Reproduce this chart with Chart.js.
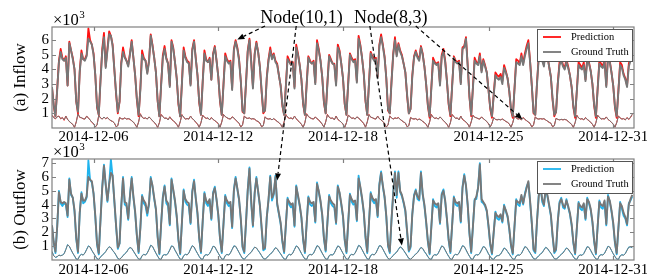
<!DOCTYPE html>
<html>
<head>
<meta charset="utf-8">
<script src="https://cdn.jsdelivr.net/npm/chart.js@4.4.1/dist/chart.umd.min.js"></script>
<style>
  html, body { margin: 0; padding: 0; background: #fff; }
  #wrap { position: relative; width: 647px; height: 276px; overflow: hidden; }
  #wrap canvas { position: absolute; left: 0; top: 0; }
</style>
</head>
<body>
<div id="wrap">
  <canvas id="inflowCanvas" width="647" height="276"></canvas>
  <canvas id="outflowCanvas" width="647" height="276"></canvas>
</div>
<script>
// Time axis: 2-hour steps starting 2014-12-04 00:00, 28 days
const stepHours = 2;
const tickHours = [48, 192, 336, 504, 648];
const tickLabels = ['2014-12-06', '2014-12-12', '2014-12-18', '2014-12-25', '2014-12-31'];
const inflowTicks = [1, 2, 3, 4, 5, 6];
const outflowTicks = [1, 2, 3, 4, 5, 6, 7];

// Inflow, Node(10,1), x10^3 -- one row per day, 00h..22h
const inflowTruth = [
  [2.8, 1.6, 0.8, 2.6, 4.5, 5.2, 4.7, 4.6, 4.8, 2.9, 5.8, 5.3],
  [4.7, 4.0, 1.8, 1.1, 3.8, 5.1, 4.7, 4.6, 4.9, 6.1, 5.9, 5.7],
  [5.0, 3.6, 1.5, 0.9, 3.2, 5.2, 6.2, 4.1, 5.3, 6.4, 6.3, 5.6],
  [4.0, 2.4, 1.1, 1.8, 4.4, 5.2, 4.8, 4.6, 4.2, 5.0, 5.9, 4.8],
  [3.6, 2.0, 0.9, 2.6, 5.0, 4.7, 4.6, 3.7, 4.5, 6.3, 5.6, 4.8],
  [3.8, 1.9, 0.8, 2.9, 4.8, 5.4, 4.7, 4.4, 2.8, 5.9, 5.4, 4.5],
  [3.4, 1.7, 0.8, 3.0, 5.3, 4.8, 4.5, 4.4, 2.9, 5.3, 5.9, 4.7],
  [3.6, 1.8, 0.9, 3.1, 5.1, 4.6, 4.5, 4.7, 3.3, 5.0, 5.5, 4.6],
  [3.5, 1.9, 0.9, 2.9, 4.9, 4.6, 4.4, 4.5, 2.6, 5.3, 5.9, 5.4],
  [4.6, 3.2, 1.2, 1.0, 3.0, 5.2, 6.0, 4.5, 2.7, 5.0, 5.8, 5.2],
  [4.2, 2.6, 1.1, 1.2, 3.4, 4.6, 5.3, 4.7, 5.0, 4.5, 4.3, 3.6],
  [2.9, 1.6, 0.9, 2.8, 4.7, 4.5, 4.3, 4.4, 2.7, 5.5, 5.0, 4.3],
  [3.3, 1.7, 0.9, 2.9, 4.8, 4.5, 4.4, 4.5, 3.0, 5.8, 5.3, 4.6],
  [3.5, 1.8, 1.0, 3.0, 4.9, 4.6, 4.4, 4.3, 2.9, 5.5, 5.2, 4.4],
  [3.4, 1.7, 0.9, 3.0, 5.0, 4.7, 4.5, 4.6, 3.1, 6.1, 5.6, 4.8],
  [3.7, 1.9, 0.9, 3.0, 5.1, 4.8, 4.6, 4.7, 3.4, 5.6, 6.2, 5.6],
  [4.8, 3.4, 1.3, 1.0, 3.1, 5.0, 6.0, 4.9, 5.7, 5.2, 4.9, 4.4],
  [3.8, 2.3, 1.0, 1.3, 3.5, 4.8, 5.2, 4.8, 4.6, 5.5, 5.0, 4.2],
  [3.0, 1.6, 0.8, 2.7, 4.6, 4.4, 4.3, 4.4, 2.9, 4.9, 5.2, 4.5],
  [3.2, 1.7, 0.9, 2.8, 4.8, 4.5, 4.4, 4.5, 3.0, 5.4, 5.5, 6.1],
  [4.2, 2.2, 0.9, 2.7, 4.6, 4.4, 4.3, 4.9, 3.8, 4.6, 4.2, 3.8],
  [2.6, 1.4, 0.8, 2.2, 3.6, 3.4, 3.3, 3.5, 3.0, 4.1, 3.8, 3.4],
  [2.5, 1.3, 0.8, 2.6, 4.5, 4.4, 4.3, 4.9, 4.3, 4.9, 5.4, 5.8],
  [4.5, 2.9, 1.1, 0.9, 3.0, 4.8, 5.5, 4.6, 4.2, 5.3, 4.9, 4.2],
  [3.5, 2.0, 0.9, 1.1, 3.0, 4.3, 4.6, 4.2, 4.0, 4.5, 4.1, 3.6],
  [2.8, 1.5, 0.8, 2.5, 4.3, 4.1, 4.0, 4.3, 3.2, 4.6, 4.4, 3.9],
  [3.0, 1.6, 0.8, 2.6, 4.4, 4.2, 4.1, 4.5, 2.8, 4.8, 4.5, 3.8],
  [2.9, 1.5, 0.8, 2.5, 4.3, 4.1, 3.6, 3.3, 2.8, 4.2, 4.6, 5.1]
].flat();

const inflowPred = [
  [2.8, 1.5, 0.8, 2.7, 4.6, 5.4, 4.8, 4.6, 4.9, 2.9, 5.9, 5.3],
  [4.8, 4.0, 1.8, 1.0, 3.9, 5.3, 4.7, 4.7, 5.0, 6.8, 6.0, 5.7],
  [5.1, 3.6, 1.4, 0.9, 3.3, 5.4, 6.5, 4.2, 5.4, 6.6, 6.3, 5.7],
  [4.0, 2.3, 1.0, 1.8, 4.5, 5.5, 4.9, 4.6, 4.3, 5.1, 6.0, 4.8],
  [3.6, 1.9, 0.8, 2.7, 5.3, 4.8, 4.6, 3.8, 4.6, 6.4, 5.7, 4.8],
  [3.8, 1.8, 0.8, 3.0, 5.0, 5.6, 4.8, 4.4, 2.9, 6.0, 5.5, 4.5],
  [3.4, 1.6, 0.8, 3.1, 5.5, 4.9, 4.6, 4.5, 3.0, 5.4, 6.0, 4.8],
  [3.6, 1.7, 0.9, 3.2, 5.3, 4.7, 4.5, 4.8, 3.3, 5.1, 5.6, 4.6],
  [3.5, 1.8, 0.9, 3.0, 5.1, 4.7, 4.5, 4.6, 2.7, 5.4, 6.0, 5.5],
  [4.7, 3.2, 1.1, 1.0, 3.1, 5.3, 6.1, 4.6, 2.8, 5.1, 5.9, 5.2],
  [4.2, 2.5, 1.0, 1.2, 3.5, 4.7, 5.5, 4.8, 5.1, 4.6, 4.4, 3.6],
  [2.9, 1.5, 0.9, 2.9, 4.9, 4.6, 4.3, 4.5, 2.8, 5.7, 5.1, 4.3],
  [3.3, 1.6, 0.9, 3.0, 4.9, 4.6, 4.4, 4.6, 3.1, 6.0, 5.4, 4.6],
  [3.5, 1.7, 1.0, 3.1, 5.0, 4.7, 4.4, 4.4, 3.0, 5.7, 5.3, 4.4],
  [3.4, 1.6, 0.9, 3.1, 5.1, 4.8, 4.6, 4.7, 3.2, 6.3, 5.7, 4.8],
  [3.7, 1.8, 0.9, 3.1, 5.2, 4.9, 4.7, 4.8, 3.5, 5.7, 6.4, 5.7],
  [4.9, 3.4, 1.2, 1.0, 3.2, 5.1, 6.2, 5.0, 5.8, 5.3, 5.0, 4.4],
  [3.8, 2.2, 1.0, 1.3, 3.6, 4.9, 5.3, 4.9, 4.7, 5.6, 5.1, 4.2],
  [3.0, 1.5, 0.7, 2.8, 4.8, 4.5, 4.4, 4.5, 3.0, 5.0, 5.4, 4.6],
  [3.2, 1.6, 0.8, 2.9, 4.9, 4.6, 4.5, 4.6, 3.1, 5.5, 5.6, 6.2],
  [4.3, 2.1, 0.8, 2.8, 4.8, 4.5, 4.4, 5.1, 3.9, 4.7, 4.3, 3.8],
  [2.6, 1.3, 0.7, 2.3, 3.8, 3.6, 3.5, 3.7, 3.2, 4.3, 3.9, 3.4],
  [2.5, 1.2, 0.7, 2.7, 4.7, 4.6, 4.4, 5.1, 4.4, 5.1, 5.6, 6.0],
  [4.6, 2.9, 1.0, 0.9, 3.1, 4.9, 5.7, 4.8, 4.3, 5.5, 5.0, 4.2],
  [3.5, 1.9, 0.8, 1.1, 3.1, 4.5, 4.8, 4.3, 4.1, 4.7, 4.2, 3.6],
  [2.8, 1.4, 0.7, 2.6, 4.5, 4.3, 4.1, 4.5, 3.3, 4.8, 4.5, 3.9],
  [3.0, 1.5, 0.7, 2.7, 4.6, 4.4, 4.2, 4.7, 2.9, 5.0, 4.6, 3.8],
  [2.9, 1.4, 0.7, 2.6, 4.5, 4.3, 3.7, 3.4, 2.9, 4.4, 4.8, 5.2]
].flat();

// Inflow, Node(8,3)
const inflowSmallTruth = [
  [0.85, 0.70, 0.65, 0.75, 0.80, 0.65, 0.70, 0.55, 0.80, 0.60, 0.45, 0.35],
  [0.25, 0.05, 0.40, 0.95, 0.75, 0.70, 0.65, 0.60, 0.80, 0.70, 0.55, 0.40],
  [0.30, 0.08, 0.20, 0.85, 0.70, 0.60, 0.75, 0.65, 0.70, 0.60, 0.50, 0.45],
  [0.35, 0.10, 0.15, 0.70, 0.65, 0.60, 0.70, 0.60, 0.65, 0.60, 0.50, 0.40],
  [0.25, 0.05, 0.40, 0.95, 0.75, 0.65, 0.70, 0.60, 0.75, 0.65, 0.50, 0.40],
  [0.25, 0.05, 0.35, 0.90, 0.80, 0.65, 0.70, 0.55, 0.75, 0.60, 0.50, 0.40],
  [0.25, 0.06, 0.40, 0.90, 0.75, 0.60, 0.65, 0.60, 0.80, 0.65, 0.55, 0.40],
  [0.28, 0.05, 0.35, 0.85, 0.75, 0.65, 0.70, 0.55, 0.70, 0.60, 0.50, 0.42],
  [0.30, 0.06, 0.40, 0.90, 0.80, 0.70, 0.65, 0.60, 0.75, 0.70, 0.55, 0.45],
  [0.32, 0.08, 0.20, 0.80, 0.70, 0.65, 0.70, 0.60, 0.65, 0.60, 0.50, 0.45],
  [0.35, 0.10, 0.15, 0.75, 0.65, 0.60, 0.65, 0.55, 0.65, 0.55, 0.45, 0.38],
  [0.25, 0.05, 0.40, 0.90, 0.75, 0.65, 0.70, 0.60, 0.80, 0.65, 0.50, 0.40],
  [0.26, 0.05, 0.35, 0.95, 0.80, 0.70, 0.65, 0.60, 0.75, 0.65, 0.55, 0.42],
  [0.27, 0.06, 0.40, 0.90, 0.75, 0.65, 0.70, 0.55, 0.80, 0.60, 0.50, 0.40],
  [0.28, 0.05, 0.35, 0.85, 0.80, 0.65, 0.70, 0.60, 0.75, 0.70, 0.55, 0.45],
  [0.30, 0.06, 0.40, 0.90, 0.75, 0.70, 0.65, 0.60, 0.80, 0.65, 0.55, 0.45],
  [0.32, 0.08, 0.20, 0.80, 0.70, 0.60, 0.70, 0.65, 0.70, 0.60, 0.50, 0.42],
  [0.35, 0.10, 0.15, 0.70, 0.65, 0.60, 0.65, 0.55, 0.60, 0.55, 0.45, 0.38],
  [0.25, 0.05, 0.40, 0.90, 0.75, 0.65, 0.70, 0.60, 0.75, 0.65, 0.50, 0.40],
  [0.26, 0.05, 0.35, 0.90, 0.80, 0.65, 0.70, 0.55, 0.80, 0.60, 0.50, 0.42],
  [0.28, 0.06, 0.40, 0.85, 0.75, 0.70, 0.65, 0.60, 0.75, 0.65, 0.55, 0.45],
  [0.30, 0.08, 0.30, 0.70, 0.60, 0.55, 0.60, 0.55, 0.60, 0.55, 0.45, 0.40],
  [0.28, 0.06, 0.35, 0.80, 0.70, 0.60, 0.65, 0.55, 0.70, 0.60, 0.50, 0.42],
  [0.32, 0.08, 0.20, 0.75, 0.65, 0.60, 0.65, 0.60, 0.65, 0.55, 0.48, 0.40],
  [0.33, 0.10, 0.15, 0.65, 0.60, 0.55, 0.60, 0.55, 0.60, 0.55, 0.45, 0.36],
  [0.25, 0.05, 0.35, 0.85, 0.70, 0.60, 0.65, 0.55, 0.70, 0.60, 0.50, 0.40],
  [0.26, 0.05, 0.35, 0.85, 0.75, 0.60, 0.65, 0.60, 0.75, 0.60, 0.50, 0.40],
  [0.27, 0.06, 0.35, 0.80, 0.70, 0.60, 0.65, 0.55, 0.70, 0.60, 0.75, 0.95]
].flat();

const inflowSmallPred = [
  [0.88, 0.72, 0.62, 0.78, 0.82, 0.62, 0.72, 0.52, 0.82, 0.58, 0.45, 0.33],
  [0.24, 0.04, 0.42, 0.98, 0.72, 0.70, 0.62, 0.62, 0.82, 0.68, 0.55, 0.38],
  [0.30, 0.06, 0.22, 0.88, 0.68, 0.62, 0.75, 0.62, 0.72, 0.58, 0.50, 0.44],
  [0.34, 0.08, 0.17, 0.72, 0.63, 0.62, 0.68, 0.62, 0.63, 0.60, 0.48, 0.40],
  [0.24, 0.04, 0.42, 0.98, 0.73, 0.66, 0.68, 0.62, 0.76, 0.63, 0.50, 0.38],
  [0.24, 0.04, 0.37, 0.93, 0.78, 0.66, 0.68, 0.56, 0.77, 0.58, 0.50, 0.38],
  [0.24, 0.05, 0.42, 0.92, 0.73, 0.62, 0.64, 0.62, 0.82, 0.63, 0.55, 0.38],
  [0.27, 0.04, 0.37, 0.88, 0.73, 0.66, 0.68, 0.56, 0.72, 0.58, 0.50, 0.40],
  [0.29, 0.05, 0.42, 0.93, 0.78, 0.70, 0.63, 0.62, 0.77, 0.68, 0.55, 0.43],
  [0.31, 0.06, 0.22, 0.83, 0.68, 0.66, 0.68, 0.62, 0.63, 0.60, 0.50, 0.43],
  [0.34, 0.08, 0.17, 0.77, 0.63, 0.62, 0.63, 0.56, 0.63, 0.55, 0.45, 0.36],
  [0.24, 0.04, 0.42, 0.93, 0.73, 0.66, 0.68, 0.62, 0.82, 0.63, 0.50, 0.38],
  [0.25, 0.04, 0.37, 0.98, 0.78, 0.70, 0.63, 0.62, 0.76, 0.63, 0.55, 0.40],
  [0.26, 0.05, 0.42, 0.93, 0.73, 0.66, 0.68, 0.56, 0.82, 0.58, 0.50, 0.38],
  [0.27, 0.04, 0.37, 0.88, 0.78, 0.66, 0.68, 0.62, 0.76, 0.68, 0.55, 0.43],
  [0.29, 0.05, 0.42, 0.93, 0.73, 0.70, 0.63, 0.62, 0.82, 0.63, 0.55, 0.43],
  [0.31, 0.06, 0.22, 0.83, 0.68, 0.62, 0.68, 0.66, 0.72, 0.58, 0.50, 0.40],
  [0.34, 0.08, 0.17, 0.72, 0.63, 0.62, 0.63, 0.56, 0.62, 0.55, 0.45, 0.36],
  [0.24, 0.04, 0.42, 0.93, 0.73, 0.66, 0.68, 0.62, 0.76, 0.63, 0.50, 0.38],
  [0.25, 0.04, 0.37, 0.93, 0.78, 0.66, 0.68, 0.56, 0.82, 0.58, 0.50, 0.40],
  [0.27, 0.05, 0.42, 0.88, 0.73, 0.70, 0.63, 0.62, 0.76, 0.63, 0.55, 0.43],
  [0.29, 0.06, 0.32, 0.72, 0.58, 0.56, 0.58, 0.56, 0.62, 0.53, 0.45, 0.38],
  [0.27, 0.05, 0.37, 0.83, 0.68, 0.62, 0.63, 0.56, 0.72, 0.58, 0.50, 0.40],
  [0.31, 0.06, 0.22, 0.77, 0.63, 0.62, 0.63, 0.62, 0.63, 0.55, 0.47, 0.38],
  [0.32, 0.08, 0.17, 0.67, 0.58, 0.56, 0.58, 0.56, 0.58, 0.55, 0.45, 0.34],
  [0.24, 0.04, 0.37, 0.88, 0.68, 0.62, 0.63, 0.56, 0.72, 0.58, 0.50, 0.38],
  [0.25, 0.04, 0.37, 0.88, 0.73, 0.62, 0.63, 0.62, 0.76, 0.58, 0.50, 0.38],
  [0.26, 0.05, 0.37, 0.83, 0.68, 0.62, 0.63, 0.56, 0.72, 0.58, 0.72, 0.92]
].flat();

// Outflow, Node(10,1)
const outflowTruth = [
  [2.5, 1.3, 0.6, 2.4, 4.9, 4.2, 4.1, 4.2, 4.1, 3.2, 5.8, 4.8],
  [4.5, 3.6, 1.6, 0.6, 3.4, 4.8, 4.3, 4.3, 4.6, 6.0, 5.8, 5.7],
  [4.8, 3.2, 1.2, 0.5, 2.9, 5.2, 6.8, 5.5, 4.3, 5.5, 6.3, 6.1],
  [4.3, 2.5, 0.9, 1.2, 3.9, 5.9, 4.2, 4.1, 3.0, 4.6, 5.9, 4.6],
  [3.5, 1.8, 0.6, 2.3, 4.6, 4.3, 4.1, 3.4, 4.1, 5.9, 5.4, 4.5],
  [3.7, 1.7, 0.5, 2.6, 4.5, 5.3, 4.3, 4.1, 2.6, 5.8, 5.1, 4.3],
  [3.2, 1.5, 0.5, 2.7, 5.0, 4.4, 4.2, 4.1, 2.7, 4.9, 5.7, 4.5],
  [3.4, 1.6, 0.6, 2.8, 4.8, 4.3, 4.1, 4.4, 3.0, 4.8, 5.2, 4.4],
  [3.3, 1.6, 0.6, 2.6, 4.6, 4.3, 4.1, 4.2, 2.4, 5.0, 5.9, 5.2],
  [4.4, 3.0, 1.0, 0.6, 2.7, 5.0, 6.6, 4.3, 2.5, 4.8, 5.9, 5.0],
  [4.0, 2.4, 0.8, 0.9, 3.1, 4.4, 6.0, 4.5, 4.8, 6.0, 4.1, 3.4],
  [2.7, 1.4, 0.6, 2.5, 4.4, 4.2, 4.0, 4.1, 2.5, 5.3, 4.7, 4.0],
  [3.1, 1.5, 0.6, 2.6, 4.5, 4.2, 4.1, 4.2, 2.8, 5.5, 5.0, 4.3],
  [3.3, 1.6, 0.7, 2.7, 4.6, 4.3, 4.1, 4.0, 2.7, 5.3, 4.9, 4.1],
  [3.2, 1.5, 0.6, 2.7, 4.7, 4.4, 4.2, 4.3, 2.9, 5.9, 5.3, 4.5],
  [3.5, 1.7, 0.6, 2.7, 4.8, 4.5, 4.3, 4.4, 3.2, 5.4, 6.3, 5.4],
  [4.6, 3.2, 1.1, 0.6, 2.9, 4.8, 6.3, 4.7, 6.3, 5.0, 4.7, 4.2],
  [3.6, 2.1, 0.7, 1.0, 3.3, 4.6, 5.0, 4.6, 4.4, 6.3, 4.8, 4.0],
  [2.8, 1.4, 0.5, 2.4, 4.3, 4.1, 4.0, 4.1, 2.7, 4.7, 5.0, 4.3],
  [3.0, 1.5, 0.6, 2.5, 4.5, 4.2, 4.1, 4.2, 2.8, 5.2, 6.1, 5.4],
  [4.0, 2.0, 0.6, 2.4, 4.3, 4.6, 5.2, 6.9, 4.4, 4.2, 4.0, 3.6],
  [2.5, 1.2, 0.5, 2.0, 3.4, 3.2, 3.1, 3.3, 2.8, 3.9, 3.6, 3.2],
  [2.3, 1.1, 0.5, 2.4, 4.3, 4.2, 4.1, 4.7, 4.1, 4.7, 5.2, 5.7],
  [4.3, 2.7, 0.8, 0.6, 2.8, 4.6, 5.3, 4.4, 4.0, 5.1, 4.7, 4.0],
  [3.3, 1.8, 0.6, 0.8, 2.8, 4.1, 4.4, 4.0, 3.8, 4.3, 3.9, 3.4],
  [2.6, 1.3, 0.5, 2.3, 4.1, 3.9, 3.8, 4.1, 3.0, 4.4, 4.2, 3.7],
  [2.8, 1.4, 0.5, 2.4, 4.2, 4.0, 3.9, 4.3, 2.6, 4.6, 4.3, 3.6],
  [2.7, 1.3, 0.5, 2.3, 4.1, 3.9, 3.4, 3.1, 2.6, 4.0, 4.4, 4.7]
].flat();

const outflowPred = [
  [2.5, 1.2, 0.5, 2.4, 5.0, 4.1, 3.9, 4.1, 4.0, 3.1, 5.9, 4.7],
  [4.5, 3.5, 1.5, 0.5, 3.4, 4.9, 4.1, 4.2, 4.5, 7.2, 5.8, 5.6],
  [4.8, 3.1, 1.1, 0.4, 2.9, 5.3, 6.9, 5.4, 4.2, 5.5, 7.3, 6.0],
  [4.2, 2.4, 0.8, 1.2, 3.9, 6.0, 4.0, 3.9, 2.9, 4.7, 6.0, 4.5],
  [3.4, 1.7, 0.5, 2.3, 4.7, 4.1, 3.9, 3.2, 4.0, 6.0, 5.3, 4.4],
  [3.6, 1.6, 0.4, 2.6, 4.6, 5.4, 4.1, 3.9, 2.5, 5.9, 5.0, 4.2],
  [3.1, 1.4, 0.4, 2.7, 5.1, 4.2, 4.0, 3.9, 2.6, 5.0, 5.8, 4.4],
  [3.3, 1.5, 0.5, 2.8, 4.9, 4.1, 3.9, 4.3, 2.9, 4.9, 5.3, 4.3],
  [3.2, 1.5, 0.5, 2.6, 4.7, 4.1, 3.9, 4.0, 2.3, 5.1, 6.0, 5.1],
  [4.3, 2.9, 0.9, 0.5, 2.7, 5.1, 6.7, 4.1, 2.4, 4.9, 6.0, 4.9],
  [3.9, 2.3, 0.7, 0.8, 3.1, 4.3, 6.1, 4.3, 4.7, 6.1, 4.0, 3.3],
  [2.6, 1.3, 0.5, 2.5, 4.5, 4.0, 3.8, 4.0, 2.4, 5.4, 4.6, 3.9],
  [3.0, 1.4, 0.5, 2.6, 4.6, 4.0, 3.9, 4.1, 2.7, 5.6, 4.9, 4.2],
  [3.2, 1.5, 0.6, 2.7, 4.7, 4.1, 3.9, 3.8, 2.6, 5.4, 4.8, 4.0],
  [3.1, 1.4, 0.5, 2.7, 4.8, 4.2, 4.0, 4.1, 2.8, 6.1, 5.2, 4.4],
  [3.4, 1.6, 0.5, 2.7, 4.9, 4.3, 4.1, 4.3, 3.1, 5.5, 6.4, 5.3],
  [4.5, 3.1, 1.0, 0.5, 2.9, 4.9, 6.4, 4.5, 6.4, 4.9, 4.6, 4.1],
  [3.5, 2.0, 0.6, 0.9, 3.3, 4.7, 5.1, 4.4, 4.3, 6.4, 4.7, 3.9],
  [2.7, 1.3, 0.4, 2.4, 4.4, 3.9, 3.8, 4.0, 2.6, 4.8, 5.1, 4.2],
  [2.9, 1.4, 0.5, 2.5, 4.6, 4.0, 3.9, 4.1, 2.7, 5.3, 6.2, 5.3],
  [3.9, 1.9, 0.5, 2.4, 4.4, 4.4, 5.3, 7.0, 4.2, 4.1, 3.9, 3.5],
  [2.4, 1.1, 0.4, 2.0, 3.5, 3.0, 2.9, 3.2, 2.7, 4.0, 3.5, 3.1],
  [2.2, 1.0, 0.4, 2.4, 4.4, 4.0, 3.9, 4.6, 4.0, 4.8, 5.3, 5.6],
  [4.2, 2.6, 0.7, 0.5, 2.8, 4.7, 5.4, 4.2, 3.9, 5.2, 4.6, 3.9],
  [3.2, 1.7, 0.5, 0.7, 2.8, 4.2, 4.5, 3.8, 3.7, 4.4, 3.8, 3.3],
  [2.5, 1.2, 0.4, 2.3, 4.2, 3.7, 3.6, 4.0, 2.9, 4.5, 4.1, 3.6],
  [2.7, 1.3, 0.4, 2.4, 4.3, 3.8, 3.7, 4.2, 2.5, 4.7, 4.2, 3.5],
  [2.6, 1.2, 0.4, 2.3, 4.2, 3.7, 3.2, 3.0, 2.5, 4.1, 4.3, 4.6]
].flat();

// Outflow, Node(8,3)
const outflowSmallTruth = [
  [0.60, 0.30, 0.20, 0.25, 0.35, 0.30, 0.35, 0.45, 0.75, 1.10, 1.00, 0.75],
  [0.50, 0.30, 0.08, 0.05, 0.30, 0.40, 0.35, 0.50, 0.75, 1.00, 0.95, 0.70],
  [0.50, 0.30, 0.10, 0.05, 0.20, 0.35, 0.45, 0.60, 0.80, 0.95, 0.90, 0.70],
  [0.55, 0.35, 0.12, 0.06, 0.15, 0.30, 0.45, 0.55, 0.75, 0.90, 0.85, 0.65],
  [0.45, 0.25, 0.08, 0.05, 0.30, 0.40, 0.35, 0.50, 0.75, 1.05, 1.00, 0.75],
  [0.50, 0.28, 0.08, 0.05, 0.32, 0.38, 0.35, 0.48, 0.72, 1.00, 0.98, 0.72],
  [0.50, 0.27, 0.07, 0.05, 0.30, 0.40, 0.36, 0.50, 0.78, 1.02, 0.95, 0.70],
  [0.48, 0.26, 0.08, 0.05, 0.31, 0.38, 0.34, 0.47, 0.70, 0.98, 0.96, 0.72],
  [0.50, 0.28, 0.08, 0.05, 0.30, 0.40, 0.35, 0.50, 0.75, 1.00, 1.00, 0.78],
  [0.55, 0.32, 0.12, 0.06, 0.18, 0.32, 0.45, 0.55, 0.75, 0.92, 0.88, 0.70],
  [0.52, 0.32, 0.12, 0.06, 0.15, 0.30, 0.42, 0.52, 0.70, 0.88, 0.82, 0.62],
  [0.45, 0.25, 0.08, 0.05, 0.30, 0.40, 0.35, 0.50, 0.75, 1.00, 0.95, 0.72],
  [0.48, 0.27, 0.08, 0.05, 0.32, 0.40, 0.36, 0.48, 0.74, 1.02, 0.98, 0.74],
  [0.50, 0.28, 0.08, 0.05, 0.30, 0.38, 0.35, 0.50, 0.76, 1.00, 0.96, 0.72],
  [0.49, 0.27, 0.08, 0.05, 0.31, 0.40, 0.36, 0.50, 0.75, 1.04, 1.00, 0.76],
  [0.52, 0.29, 0.09, 0.05, 0.32, 0.40, 0.36, 0.50, 0.76, 1.02, 1.02, 0.80],
  [0.56, 0.33, 0.12, 0.06, 0.18, 0.32, 0.46, 0.56, 0.76, 0.94, 0.88, 0.70],
  [0.52, 0.32, 0.12, 0.06, 0.15, 0.30, 0.42, 0.52, 0.72, 0.90, 0.84, 0.62],
  [0.45, 0.25, 0.08, 0.05, 0.30, 0.38, 0.34, 0.48, 0.74, 1.00, 0.96, 0.72],
  [0.48, 0.27, 0.08, 0.05, 0.31, 0.40, 0.36, 0.50, 0.76, 1.02, 0.98, 0.75],
  [0.50, 0.28, 0.08, 0.05, 0.30, 0.38, 0.35, 0.48, 0.72, 0.96, 0.92, 0.70],
  [0.45, 0.26, 0.09, 0.05, 0.22, 0.30, 0.32, 0.42, 0.62, 0.85, 0.80, 0.62],
  [0.44, 0.25, 0.08, 0.05, 0.28, 0.36, 0.34, 0.46, 0.70, 0.95, 0.92, 0.72],
  [0.52, 0.31, 0.11, 0.06, 0.16, 0.30, 0.42, 0.52, 0.72, 0.90, 0.85, 0.66],
  [0.50, 0.30, 0.11, 0.06, 0.14, 0.28, 0.40, 0.50, 0.68, 0.85, 0.80, 0.60],
  [0.44, 0.24, 0.08, 0.05, 0.28, 0.36, 0.33, 0.46, 0.70, 0.95, 0.92, 0.70],
  [0.46, 0.26, 0.08, 0.05, 0.30, 0.38, 0.35, 0.48, 0.72, 0.98, 0.94, 0.70],
  [0.46, 0.26, 0.08, 0.05, 0.29, 0.37, 0.34, 0.46, 0.70, 0.92, 0.95, 0.90]
].flat();

const outflowSmallPred = [
  [0.62, 0.32, 0.18, 0.22, 0.36, 0.32, 0.36, 0.46, 0.78, 1.12, 0.98, 0.72],
  [0.48, 0.28, 0.06, 0.04, 0.32, 0.42, 0.36, 0.52, 0.78, 1.03, 0.93, 0.68],
  [0.48, 0.28, 0.08, 0.04, 0.22, 0.36, 0.46, 0.62, 0.82, 0.97, 0.88, 0.68],
  [0.53, 0.33, 0.10, 0.05, 0.17, 0.32, 0.46, 0.57, 0.77, 0.92, 0.83, 0.63],
  [0.43, 0.23, 0.06, 0.04, 0.32, 0.42, 0.36, 0.52, 0.78, 1.08, 0.98, 0.72],
  [0.48, 0.26, 0.06, 0.04, 0.34, 0.40, 0.36, 0.50, 0.75, 1.03, 0.96, 0.70],
  [0.48, 0.25, 0.05, 0.04, 0.32, 0.42, 0.37, 0.52, 0.81, 1.05, 0.93, 0.68],
  [0.46, 0.24, 0.06, 0.04, 0.33, 0.40, 0.35, 0.49, 0.73, 1.01, 0.94, 0.70],
  [0.48, 0.26, 0.06, 0.04, 0.32, 0.42, 0.36, 0.52, 0.78, 1.03, 0.98, 0.76],
  [0.53, 0.30, 0.10, 0.05, 0.20, 0.34, 0.47, 0.57, 0.77, 0.94, 0.86, 0.68],
  [0.50, 0.30, 0.10, 0.05, 0.17, 0.32, 0.44, 0.54, 0.72, 0.90, 0.80, 0.60],
  [0.43, 0.23, 0.06, 0.04, 0.32, 0.42, 0.36, 0.52, 0.78, 1.03, 0.93, 0.70],
  [0.46, 0.25, 0.06, 0.04, 0.34, 0.42, 0.37, 0.50, 0.77, 1.05, 0.96, 0.72],
  [0.48, 0.26, 0.06, 0.04, 0.32, 0.40, 0.36, 0.52, 0.79, 1.03, 0.94, 0.70],
  [0.47, 0.25, 0.06, 0.04, 0.33, 0.42, 0.37, 0.52, 0.78, 1.07, 0.98, 0.74],
  [0.50, 0.27, 0.07, 0.04, 0.34, 0.42, 0.37, 0.52, 0.79, 1.05, 1.00, 0.78],
  [0.54, 0.31, 0.10, 0.05, 0.20, 0.34, 0.48, 0.58, 0.78, 0.96, 0.86, 0.68],
  [0.50, 0.30, 0.10, 0.05, 0.17, 0.32, 0.44, 0.54, 0.74, 0.92, 0.82, 0.60],
  [0.43, 0.23, 0.06, 0.04, 0.32, 0.40, 0.35, 0.50, 0.77, 1.03, 0.94, 0.70],
  [0.46, 0.25, 0.06, 0.04, 0.33, 0.42, 0.37, 0.52, 0.79, 1.05, 0.96, 0.73],
  [0.48, 0.26, 0.06, 0.04, 0.32, 0.40, 0.36, 0.50, 0.75, 0.99, 0.90, 0.68],
  [0.43, 0.24, 0.07, 0.04, 0.24, 0.32, 0.33, 0.44, 0.65, 0.88, 0.78, 0.60],
  [0.42, 0.23, 0.06, 0.04, 0.30, 0.38, 0.35, 0.48, 0.73, 0.98, 0.90, 0.70],
  [0.50, 0.29, 0.09, 0.05, 0.18, 0.32, 0.44, 0.54, 0.75, 0.93, 0.83, 0.64],
  [0.48, 0.28, 0.09, 0.05, 0.16, 0.30, 0.42, 0.52, 0.71, 0.88, 0.78, 0.58],
  [0.42, 0.22, 0.06, 0.04, 0.30, 0.38, 0.34, 0.48, 0.73, 0.98, 0.90, 0.68],
  [0.44, 0.24, 0.06, 0.04, 0.32, 0.40, 0.36, 0.50, 0.75, 1.01, 0.92, 0.68],
  [0.44, 0.24, 0.06, 0.04, 0.31, 0.39, 0.35, 0.48, 0.73, 0.95, 0.93, 0.88]
].flat();

// Annotations (positions in hours / data values of the panels)
const nodeNotes = [
  { text: 'Node(10,1)', hour: 288 },
  { text: 'Node(8,3)', hour: 391 }
];
const nodeArrows = [
  { fromHour: 246, panel: 'inflow', toHour: 214, toValue: 6.05 },
  { fromHour: 282, panel: 'outflow', toHour: 260, toValue: 5.75 },
  { fromHour: 367, panel: 'outflow', toHour: 404, toValue: 1.05 },
  { fromHour: 420, panel: 'inflow', toHour: 543, toValue: 0.6 }
];

const hours = inflowTruth.map((_, i) => i * stepHours);
const FONT = "'Liberation Serif', 'Times New Roman', serif";
const truthColor = '#777777';

let inflowPanel = null;
let outflowPanel = null;

document.addEventListener('DOMContentLoaded', function() {
    inflowPanel = buildPanel('inflowCanvas', {
        title: '(a) Inflow',
        color: '#ff1111',
        truth: inflowTruth, pred: inflowPred,
        smallTruth: inflowSmallTruth, smallPred: inflowSmallPred,
        yMax: 6.9, yTicks: inflowTicks,
        padding: { left: 0, right: 13, top: 27, bottom: 128 },
        xHeight: 20, xPad: 0,
        notes: false
    });
    outflowPanel = buildPanel('outflowCanvas', {
        title: '(b) Outflow',
        color: '#1fb4ee',
        truth: outflowTruth, pred: outflowPred,
        smallTruth: outflowSmallTruth, smallPred: outflowSmallPred,
        yMax: 7.3, yTicks: outflowTicks,
        padding: { left: 0, right: 13, top: 159, bottom: 0 },
        xHeight: 16, xPad: 1,
        notes: true
    });
});

// Frame, inward ticks, x10^3 label and legend drawn over the data
const framePlugin = {
    id: 'frame',
    afterDatasetsDraw(chart) {
        const { ctx, chartArea: a, scales } = chart;
        const panel = chart.options.plugins.frame;
        ctx.save();
        ctx.strokeStyle = '#808080';
        ctx.lineWidth = 1.2;
        ctx.strokeRect(a.left, a.top, a.right - a.left, a.bottom - a.top);
        ctx.beginPath();
        scales.y.ticks.forEach(t => {
            const py = Math.round(scales.y.getPixelForValue(t.value)) + 0.5;
            ctx.moveTo(a.left, py); ctx.lineTo(a.left + 4, py);
            ctx.moveTo(a.right, py); ctx.lineTo(a.right - 4, py);
        });
        scales.x.ticks.forEach(t => {
            const px = Math.round(scales.x.getPixelForValue(t.value)) + 0.5;
            ctx.moveTo(px, a.top); ctx.lineTo(px, a.top + 4);
            ctx.moveTo(px, a.bottom); ctx.lineTo(px, a.bottom - 4);
        });
        ctx.stroke();

        // x10^3 multiplier
        ctx.fillStyle = '#000';
        ctx.textBaseline = 'alphabetic';
        ctx.font = '16.5px ' + FONT;
        ctx.fillText('\u00d710', a.left + 1, a.top - 2.5);
        const w = ctx.measureText('\u00d710').width;
        ctx.font = '11px ' + FONT;
        ctx.fillText('3', a.left + 1 + w + 0.5, a.top - 9);

        drawLegend(ctx, a.right - 97, a.top + 2, panel.color);
        ctx.restore();

        if (panel.notes) drawNotes(ctx, chart);
    }
};

// Legend box (matplotlib style, drawn on top of the lines)
function drawLegend(ctx, x, y, color) {
    ctx.fillStyle = '#fff';
    ctx.fillRect(x, y, 95, 32);
    ctx.strokeStyle = '#555';
    ctx.lineWidth = 1;
    ctx.strokeRect(x + 0.5, y + 0.5, 95, 32);
    const rows = [['Prediction', color], ['Ground Truth', truthColor]];
    ctx.font = '10.5px ' + FONT;
    ctx.textBaseline = 'middle';
    rows.forEach((r, i) => {
        const ry = y + 8 + i * 15;
        ctx.strokeStyle = r[1];
        ctx.lineWidth = 1.8;
        ctx.beginPath();
        ctx.moveTo(x + 6, ry); ctx.lineTo(x + 24, ry);
        ctx.stroke();
        ctx.fillStyle = '#000';
        ctx.fillText(r[0], x + 34, ry);
    });
}

// Node labels and dashed arrows spanning both panels
function drawNotes(ctx, bottom) {
    const top = inflowPanel;
    if (!top || !top.scales || !bottom.scales) return;
    const tx = top.scales.x;
    const yTop = top.chartArea.top;
    ctx.save();
    ctx.fillStyle = '#000';
    ctx.strokeStyle = '#000';
    ctx.font = '18px ' + FONT;
    ctx.textAlign = 'center';
    ctx.textBaseline = 'alphabetic';
    nodeNotes.forEach(n => ctx.fillText(n.text, tx.getPixelForValue(n.hour), yTop - 4));
    ctx.lineWidth = 1.2;
    nodeArrows.forEach(a => {
        const target = a.panel === 'inflow' ? top : bottom;
        drawArrow(ctx,
            tx.getPixelForValue(a.fromHour), yTop - 1,
            target.scales.x.getPixelForValue(a.toHour),
            target.scales.y.getPixelForValue(a.toValue));
    });
    ctx.restore();
}

function drawArrow(ctx, x1, y1, x2, y2) {
    const ang = Math.atan2(y2 - y1, x2 - x1);
    const head = 7;
    const bx = x2 - head * Math.cos(ang);
    const by = y2 - head * Math.sin(ang);
    ctx.setLineDash([4, 3]);
    ctx.beginPath();
    ctx.moveTo(x1, y1);
    ctx.lineTo(bx, by);
    ctx.stroke();
    ctx.setLineDash([]);
    ctx.beginPath();
    ctx.moveTo(x2, y2);
    ctx.lineTo(bx + 3 * Math.sin(ang), by - 3 * Math.cos(ang));
    ctx.lineTo(bx - 3 * Math.sin(ang), by + 3 * Math.cos(ang));
    ctx.closePath();
    ctx.fill();
}

// Build one panel (inflow or outflow)
function buildPanel(canvasId, panel) {
    const ctx = document.getElementById(canvasId).getContext('2d');
    return new Chart(ctx, {
        type: 'line',
        data: {
            labels: hours,
            datasets: [
                { label: 'Ground Truth', data: panel.truth, borderColor: truthColor, borderWidth: 1.9, order: 0 },
                { label: 'Prediction', data: panel.pred, borderColor: panel.color, borderWidth: 1.8, order: 1 },
                { label: 'Ground Truth (8,3)', data: panel.smallTruth, borderColor: truthColor, borderWidth: 1, order: 2 },
                { label: 'Prediction (8,3)', data: panel.smallPred, borderColor: panel.color, borderWidth: 1, order: 3 }
            ]
        },
        options: {
            responsive: false,
            animation: false,
            events: [],
            devicePixelRatio: 1,
            layout: { padding: panel.padding },
            elements: {
                point: { radius: 0 },
                line: { tension: 0, borderJoinStyle: 'round', fill: false }
            },
            plugins: {
                legend: { display: false },
                tooltip: { enabled: false },
                frame: { color: panel.color, notes: panel.notes }
            },
            scales: {
                x: {
                    type: 'linear',
                    min: 0,
                    max: 672,
                    grid: { display: false, drawTicks: false },
                    border: { display: false },
                    afterBuildTicks: s => { s.ticks = tickHours.map(v => ({ value: v })); },
                    afterFit: s => { s.height = panel.xHeight; s.paddingLeft = 0; s.paddingRight = 0; },
                    ticks: {
                        autoSkip: false,
                        maxRotation: 0,
                        padding: panel.xPad,
                        color: '#000',
                        font: { family: FONT, size: 15 },
                        callback: (v, i) => tickLabels[i]
                    }
                },
                y: {
                    min: 0,
                    max: panel.yMax,
                    grid: { display: false, drawTicks: false },
                    border: { display: false },
                    afterBuildTicks: s => { s.ticks = panel.yTicks.map(v => ({ value: v })); },
                    afterFit: s => { s.width = 52; s.paddingTop = 0; s.paddingBottom = 0; },
                    ticks: {
                        autoSkip: false,
                        padding: 3,
                        color: '#000',
                        font: { family: FONT, size: 15 },
                        callback: v => v
                    },
                    title: {
                        display: true,
                        text: panel.title,
                        color: '#000',
                        font: { family: FONT, size: 17 },
                        padding: { top: 10, bottom: 0 }
                    }
                }
            }
        },
        plugins: [framePlugin]
    });
}
</script>
</body>
</html>
